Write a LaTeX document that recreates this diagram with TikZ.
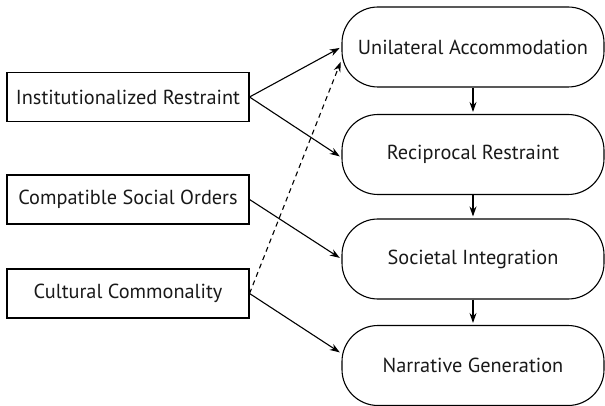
\documentclass[tikz,border=0pt]{standalone}
\usepackage{fontspec}
\setmainfont{PT Sans}
\usetikzlibrary{arrows.meta}
\begin{document}
\begin{tikzpicture}[x=1pt,y=-1pt,
  srcbox/.style={draw,line width=1.1pt,minimum width=242pt,minimum height=49pt,inner sep=0pt,font=\fontsize{20.3}{24}\selectfont,text=black!90},
  stagebox/.style={draw,line width=1.1pt,rounded corners=36pt,minimum width=262pt,minimum height=80pt,inner sep=0pt,font=\fontsize{20.3}{24}\selectfont,text=black!90},
  link/.style={line width=1.1pt,-{Stealth[length=10pt,width=7pt]},shorten >=2pt}]
\useasboundingbox (0,0) rectangle (605,406);
\node[srcbox] (ir) at (128,97) {Institutionalized Restraint};
\node[srcbox] (cso) at (128,199.5) {Compatible Social Orders};
\node[srcbox] (cc) at (128,293.5) {Cultural Commonality};
\node[stagebox] (ua) at (473,47) {Unilateral Accommodation};
\node[stagebox] (rr) at (473,154.5) {Reciprocal Restraint};
\node[stagebox] (si) at (473,259) {Societal Integration};
\node[stagebox] (ng) at (473,365.5) {Narrative Generation};
\draw[link] (ir.east) -- (ua.west);
\draw[link] (ir.east) -- ([yshift=-3pt]rr.west);
\draw[link] (cso.east) -- (si.west);
\draw[link] (cc.east) -- ([yshift=12pt]ng.west);
\draw[link,dashed,dash pattern=on 5pt off 4pt] (cc.east) -- ([yshift=-13pt]ua.west);
\draw[link] (ua.south) -- (rr.north);
\draw[link] (rr.south) -- (si.north);
\draw[link] (si.south) -- (ng.north);
\end{tikzpicture}
\end{document}
